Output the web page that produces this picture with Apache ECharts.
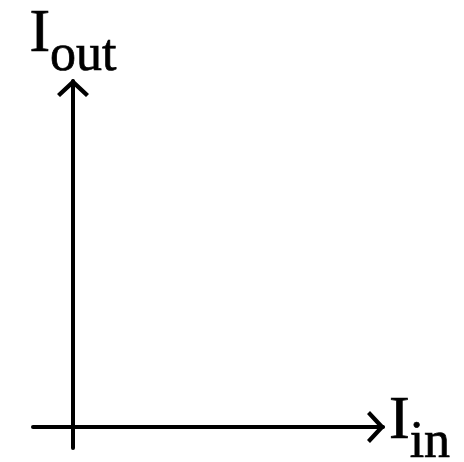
<!DOCTYPE html>
<html>
<head>
<meta charset="utf-8">
<style>html,body{margin:0;padding:0;background:#fff;}#c{width:464px;height:462px;}</style>
<script src="https://cdn.jsdelivr.net/npm/echarts@6/dist/echarts.min.js"></script>
</head>
<body>
<div id="c"></div>
<script>
// Axis labels (main letter + subscript)
const xName = ['I', 'in'];
const yName = ['I', 'out'];
// Axis ranges (axes cross at 0)
const xRange = [-40, 310];
const yRange = [-21, 346];
// No plotted data in this diagram
const seriesValues = [];

const chevron = 'path://M16,0 L32,15 L29,18 L16,6 L3,18 L0,15 Z';
const serif = '"Liberation Serif", "DejaVu Serif", serif';

const chart = echarts.init(document.getElementById('c'), null, {renderer: 'canvas'});
function rich() {
  return {
    m: {fontSize: 62, lineHeight: 62, fontFamily: serif, color: '#000', verticalAlign: 'top',
        textBorderColor: '#000', textBorderWidth: 0.7},
    s: {fontSize: 52, lineHeight: 52, fontFamily: serif, color: '#000', verticalAlign: 'top', padding: [26, 0, 0, 0],
        textBorderColor: '#000', textBorderWidth: 0.7}
  };
}
const axisCommon = {
  type: 'value',
  axisLine: {show: true, onZero: true, symbol: ['none', chevron], symbolSize: [32, 18], symbolOffset: [0, -7],
    lineStyle: {color: '#000', width: 4}},
  axisTick: {show: false},
  axisLabel: {show: false},
  splitLine: {show: false}
};
chart.setOption({
  animation: false,
  backgroundColor: '#fff',
  grid: {left: 33, top: 81, width: 350, height: 367, containLabel: false, outerBoundsMode: 'none'},
  xAxis: Object.assign({}, axisCommon, {
    min: xRange[0], max: xRange[1],
    name: '{m|' + xName[0] + '}{s|' + xName[1] + '}',
    nameLocation: 'end', nameGap: 6,
    nameTextStyle: {rich: rich(), align: 'left', verticalAlign: 'middle', padding: [0, 0, 10, 0]}
  }),
  yAxis: Object.assign({}, axisCommon, {
    min: yRange[0], max: yRange[1],
    name: '{m|' + yName[0] + '}{s|' + yName[1] + '}',
    nameLocation: 'end', nameGap: 15,
    nameTextStyle: {rich: rich(), align: 'center', verticalAlign: 'bottom'}
  }),
  series: [{type: 'line', data: seriesValues}]
});
</script>
</body>
</html>
